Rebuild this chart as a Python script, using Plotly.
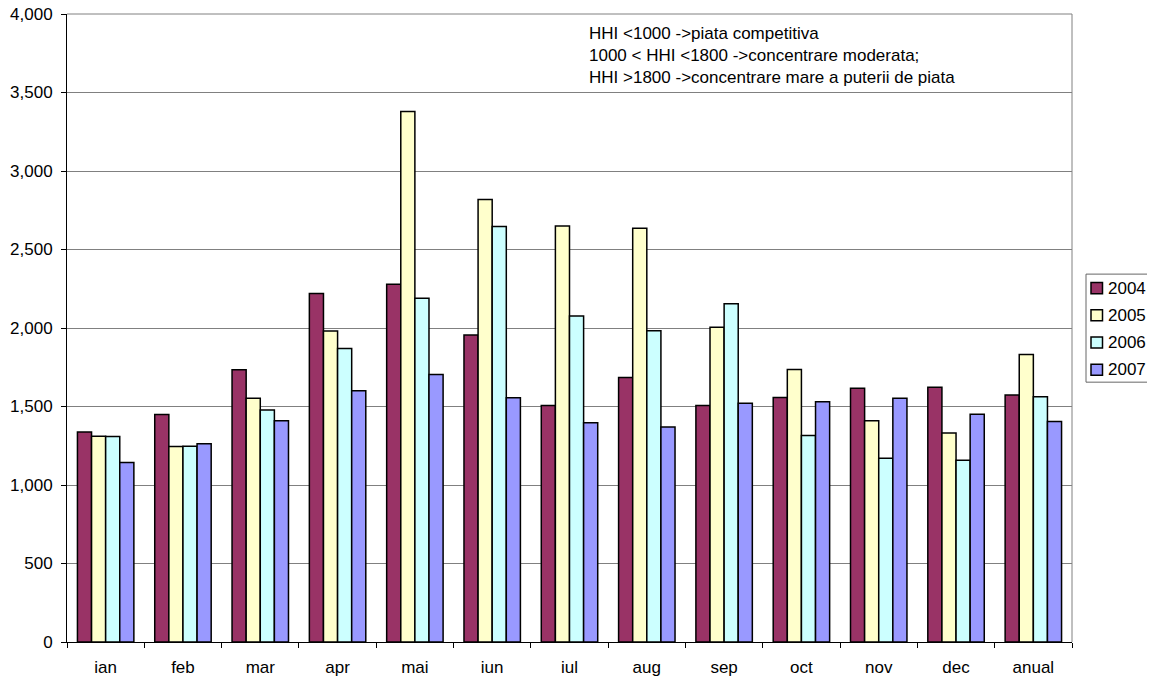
import plotly.graph_objects as go

categories = ["ian", "feb", "mar", "apr", "mai", "iun", "iul", "aug", "sep", "oct", "nov", "dec", "anual"]
v2004 = [1338, 1449, 1734, 2219, 2279, 1955, 1506, 1685, 1506, 1557, 1617, 1623, 1574]
v2005 = [1311, 1245, 1553, 1981, 3379, 2818, 2650, 2636, 2004, 1736, 1409, 1332, 1832]
v2006 = [1309, 1247, 1477, 1870, 2189, 2646, 2077, 1983, 2155, 1315, 1170, 1157, 1562]
v2007 = [1143, 1262, 1409, 1600, 1704, 1555, 1396, 1370, 1521, 1530, 1553, 1451, 1404]
series = [("2004", v2004, "#993366"), ("2005", v2005, "#FFFFCC"),
          ("2006", v2006, "#CCFFFF"), ("2007", v2007, "#9999FF")]
y_ticks = [0, 500, 1000, 1500, 2000, 2500, 3000, 3500, 4000]
note = "HHI <1000 ->piata competitiva<br>1000 < HHI <1800 ->concentrare moderata;<br>HHI >1800 ->concentrare mare a puterii de piata"

FONT = "Arial, Liberation Sans, sans-serif"

fig = go.Figure()
for name, vals, col in series:
    fig.add_trace(go.Bar(x=categories, y=vals, name=name, showlegend=False,
                         marker=dict(color=col, line=dict(color="black", width=1.5))))

# plot area size in px (used to convert legend layout offsets to paper units)
PW, PH = 1005.0, 627.7

shapes = [dict(type="line", xref="paper", yref="paper", x0=0, x1=1, y0=1, y1=1,
               line=dict(color="#808080", width=1)),
          dict(type="line", xref="paper", yref="paper", x0=1, x1=1, y0=0, y1=1,
               line=dict(color="#808080", width=1))]
annotations = [dict(text=note, xref="paper", yref="paper", x=0.517, y=0.9347,
                    xanchor="left", yanchor="middle", align="left", showarrow=False,
                    font=dict(size=17, family=FONT, color="black"))]

# legend box (Excel-style, compact)
lx0 = 1 + 14 / PW
lx1 = 1 + 79 / PW
ly1 = 0.5858
ly0 = ly1 - 108 / PH
shapes.append(dict(type="rect", xref="paper", yref="paper", x0=lx0, x1=lx1, y0=ly0, y1=ly1,
                   line=dict(color="#666666", width=1), fillcolor="white", layer="above"))
for i, (name, vals, col) in enumerate(series):
    cy = ly1 - (14 + 27.2 * i) / PH
    shapes.append(dict(type="rect", xref="paper", yref="paper",
                       x0=1 + 19 / PW, x1=1 + 30.5 / PW,
                       y0=cy - 5.5 / PH, y1=cy + 5.5 / PH,
                       line=dict(color="black", width=1.5), fillcolor=col, layer="above"))
    annotations.append(dict(text=name, xref="paper", yref="paper", x=1 + 34 / PW, y=cy,
                            xanchor="left", yanchor="middle", showarrow=False,
                            font=dict(size=17, family=FONT, color="black")))

# page body has an 8px margin, so the figure is sized 8px smaller
fig.update_layout(
    width=1147, height=672,
    margin=dict(l=59, r=83, t=6, b=38, autoexpand=False),
    paper_bgcolor="white", plot_bgcolor="white",
    barmode="group", bargap=0.27, bargroupgap=0,
    font=dict(family=FONT, size=17, color="black"),
    showlegend=False,
    xaxis=dict(showline=True, linecolor="black", linewidth=1, automargin=False,
               ticks="outside", ticklen=5, tickcolor="black", tickson="boundaries",
               ticklabelstandoff=10,
               showgrid=False, mirror=False),
    yaxis=dict(range=[0, 4000], tickvals=y_ticks, tickformat=",d", automargin=False,
               showline=True, linecolor="black", linewidth=1,
               ticks="outside", ticklen=5, tickcolor="black", ticklabelstandoff=5,
               ticklabeloverflow="allow",
               showgrid=True, gridcolor="#808080", gridwidth=1, zeroline=False),
    annotations=annotations,
    shapes=shapes,
)

fig.write_html("out.html")
